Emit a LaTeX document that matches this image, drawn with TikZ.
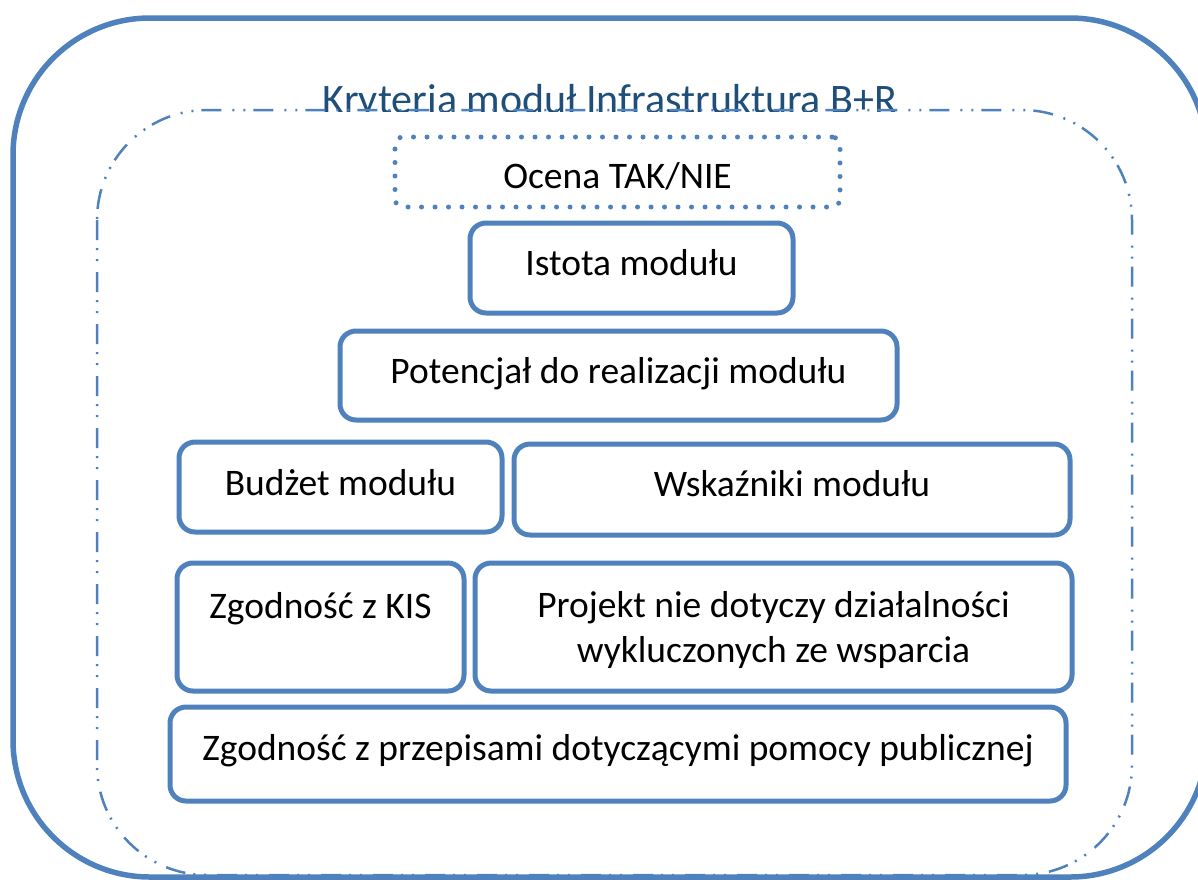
\documentclass[tikz,border=0pt]{standalone}
\usepackage{fontspec}
\setmainfont{Carlito}
\definecolor{boxblue}{HTML}{4F81BD}
\definecolor{titleblue}{HTML}{1F4E79}
\begin{document}
\begin{tikzpicture}[x=1pt,y=-1pt,
  crit/.style={draw=boxblue, line width=5pt, rounded corners=16pt, inner sep=0pt},
  dotbox/.style={draw=boxblue, line width=5pt, line cap=round, dash pattern=on 0pt off 13.5pt, rounded corners=8pt, inner sep=0pt},
  lbl/.style={anchor=base, inner sep=0pt, font=\fontsize{37.5}{45}\selectfont, text=black},
  titlelbl/.style={anchor=base, inner sep=0pt, font=\fontsize{42}{50}\selectfont, text=titleblue},
 ]
\useasboundingbox (0,0) rectangle (1198,879);
\clip (0,0) rectangle (1198,879);
% outer frame
\draw[boxblue, line width=5.5pt, rounded corners=137pt] (13,18) rectangle (1207,877);
% title (clipped by the inner frame line)
\begin{scope}
  \clip (0,0) rectangle (1198,111);
  \node[titlelbl] (title) at (610,113) {Kryteria moduł Infrastruktura B+R};
\end{scope}
% inner dash-dot frame
\draw[boxblue, line width=2.5pt, rounded corners=110pt,
      dash pattern=on 20pt off 8pt on 2pt off 9pt on 2pt off 11pt] (97,110) rectangle (1132,875);
% boxes
\node[dotbox, minimum width=445pt, minimum height=70pt] (ocena) at (617.5,172) {};
\node[crit, minimum width=323pt, minimum height=90pt] (istota) at (631.5,268) {};
\node[crit, minimum width=557pt, minimum height=89pt] (potencjal) at (618.5,375.5) {};
\node[crit, minimum width=323pt, minimum height=90pt] (budzet) at (340.5,487) {};
\node[crit, minimum width=556pt, minimum height=91pt] (wskazniki) at (792,489.5) {};
\node[crit, minimum width=287pt, minimum height=128pt] (kis) at (320.5,627) {};
\node[crit, minimum width=597pt, minimum height=128pt] (projekt) at (773.5,627) {};
\node[crit, minimum width=896pt, minimum height=94pt] (przepisy) at (618,754) {};
% labels
\node[lbl] (t-ocena) at (617.5,188) {Ocena TAK/NIE};
\node[lbl] (t-istota) at (631.5,275) {Istota modułu};
\node[lbl] (t-potencjal) at (618.5,383) {Potencjał do realizacji modułu};
\node[lbl] (t-budzet) at (340.5,495) {Budżet modułu};
\node[lbl] (t-wskazniki) at (792,496) {Wskaźniki modułu};
\node[lbl] (t-kis) at (320.5,618) {Zgodność z KIS};
\node[lbl] (t-projekt1) at (773.5,617) {Projekt nie dotyczy działalności};
\node[lbl] (t-projekt2) at (773.5,662) {wykluczonych ze wsparcia};
\node[lbl] (t-przepisy) at (618,760) {Zgodność z przepisami dotyczącymi pomocy publicznej};
\end{tikzpicture}
\end{document}
